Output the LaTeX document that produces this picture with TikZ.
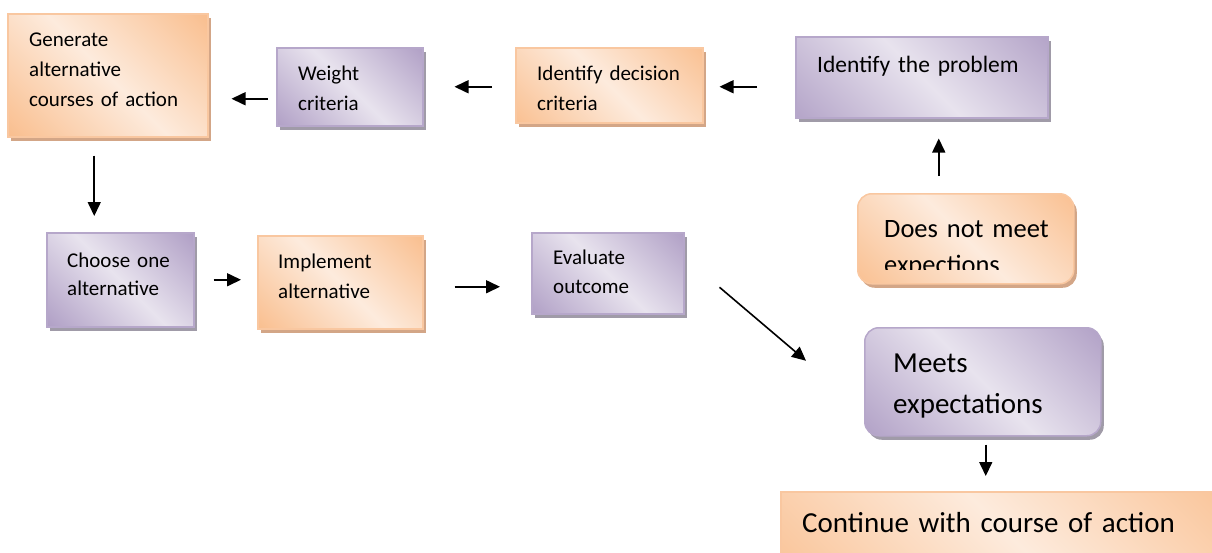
\documentclass[tikz,border=0pt]{standalone}
\usepackage{fontspec}
\setmainfont{Carlito}
\usetikzlibrary{arrows.meta,calc,shadows}

\definecolor{orDark}{HTML}{F9BD8C}
\definecolor{orLight}{HTML}{FDEBDD}
\definecolor{orEdge}{HTML}{F9C7A0}
\definecolor{orShadow}{HTML}{D3A687}
\definecolor{puDark}{HTML}{AE9DC4}
\definecolor{puLight}{HTML}{E8E3EE}
\definecolor{puEdge}{HTML}{B6A7CA}
\definecolor{puShadow}{HTML}{A09BA8}

\tikzset{
  % diagonal gradient: dark corners top-right and bottom-left, light diagonal band
  grad/.style 2 args={fill=#2, path picture={
    \shade[left color=#1, right color=#1, middle color=#2, shading angle=-45]
      let \p1=($(path picture bounding box.north east)-(path picture bounding box.south west)$),
          \n1={veclen(\x1,\y1)/2} in
      ($(path picture bounding box.center)+(-\n1,-\n1)$) rectangle
      ($(path picture bounding box.center)+(\n1,\n1)$);}},
  box/.style={anchor=north west, inner sep=0pt, line width=1.5pt},
  orbox/.style={box, draw=orEdge, grad={orDark}{orLight},
    drop shadow={shadow xshift=3pt, shadow yshift=-4pt, fill=orShadow, opacity=1}},
  pubox/.style={box, draw=puEdge, grad={puDark}{puLight},
    drop shadow={shadow xshift=3pt, shadow yshift=-4pt, fill=puShadow, opacity=1}},
  txt/.style={anchor=base west, inner sep=0pt, text width=420pt, align=left,
    font=\fontsize{21}{30}\selectfont},
  arr/.style={-{Triangle[length=14pt,width=13pt]}, line width=1.6pt},
}

\begin{document}
\begin{tikzpicture}[x=1pt, y=-1pt]
  \useasboundingbox (0,0) rectangle (1212,552);

  % process boxes
  \node[orbox, minimum width=200pt, minimum height=123pt] (gen) at (7,13) {};
  \node[pubox, minimum width=146pt, minimum height=78pt] (weight) at (276,47) {};
  \node[orbox, minimum width=187pt, minimum height=75pt] (crit) at (515,47) {};
  \node[pubox, minimum width=252pt, minimum height=81pt] (prob) at (795,36) {};
  \node[pubox, minimum width=147pt, minimum height=94pt] (choose) at (46,232) {};
  \node[orbox, minimum width=165pt, minimum height=93pt] (impl) at (257,235) {};
  \node[pubox, minimum width=152pt, minimum height=81pt] (eval) at (531,232) {};
  \node[orbox, rounded corners=14pt, minimum width=216pt, minimum height=90pt] (notmeet) at (857,193) {};
  \node[pubox, rounded corners=14pt, minimum width=236pt, minimum height=108pt] (meets) at (864,327) {};
  \node[orbox, minimum width=440pt, minimum height=70pt] (cont) at (780,491) {};

  % box texts
  \node[txt] (genT) at (29,46) {Generate\\alternative\\courses of action};
  \node[txt] (weightT) at (298,80) {Weight\\criteria};
  \node[txt] (critT) at (537,80) {Identify decision\\criteria};
  \node[txt, font=\fontsize{23.5}{30}\selectfont] (probT) at (817,72) {Identify the problem};
  \node[txt, font=\fontsize{21}{28}\selectfont] (chooseT) at (67,267) {Choose one\\alternative};
  \node[txt] (implT) at (278,268) {Implement\\alternative};
  \node[txt, font=\fontsize{21}{29}\selectfont] (evalT) at (553,264) {Evaluate\\outcome};
  \begin{scope}
    \clip (857,193) rectangle (1076,269);
    \node[txt, font=\fontsize{26.5}{36}\selectfont] (notmeetT) at (884,237) {Does not meet\\expections};
  \end{scope}
  \node[txt, font=\fontsize{29}{41}\selectfont] (meetsT) at (893,372) {Meets\\expectations};
  \node[txt, font=\fontsize{29}{36}\selectfont] (contT) at (802,532) {Continue with course of action};

  % connectors
  \draw[arr, shorten <=38pt, shorten >=16pt]
    ($(prob.west |- crit.east)+(0,1.5)$) -- ($(crit.east)+(0,1.5)$);
  \draw[arr, shorten <=23pt, shorten >=31pt]
    (crit.west |- weight.east) -- (weight.east);
  \draw[arr, shorten <=8pt, shorten >=23pt]
    ($(weight.west)+(0,12)$) -- ($(gen.east |- weight.west)+(0,12)$);
  \draw[arr, shorten <=18pt, shorten >=16pt]
    ($(gen.south)+(-13.5,0)$) -- ($(gen.south |- choose.north)+(-13.5,0)$);
  \draw[arr, shorten <=19pt, shorten >=16pt]
    (choose.east) -- (impl.west |- choose.east);
  \draw[arr, shorten <=31pt, shorten >=31pt]
    ($(impl.east)+(0,4.5)$) -- ($(eval.west |- impl.east)+(0,4.5)$);
  \draw[arr] ($(eval.east)+(35,14)$) -- ($(meets.west)+(-58,-21)$);
  \draw[arr, shorten <=17pt, shorten >=20pt]
    ($(notmeet.north)+(-27,0)$) -- ($(notmeet.north |- prob.south)+(-27,0)$);
  \draw[arr, shorten <=8pt, shorten >=15pt]
    ($(meets.south)+(3,0)$) -- ($(meets.south |- cont.north)+(3,0)$);
\end{tikzpicture}
\end{document}
